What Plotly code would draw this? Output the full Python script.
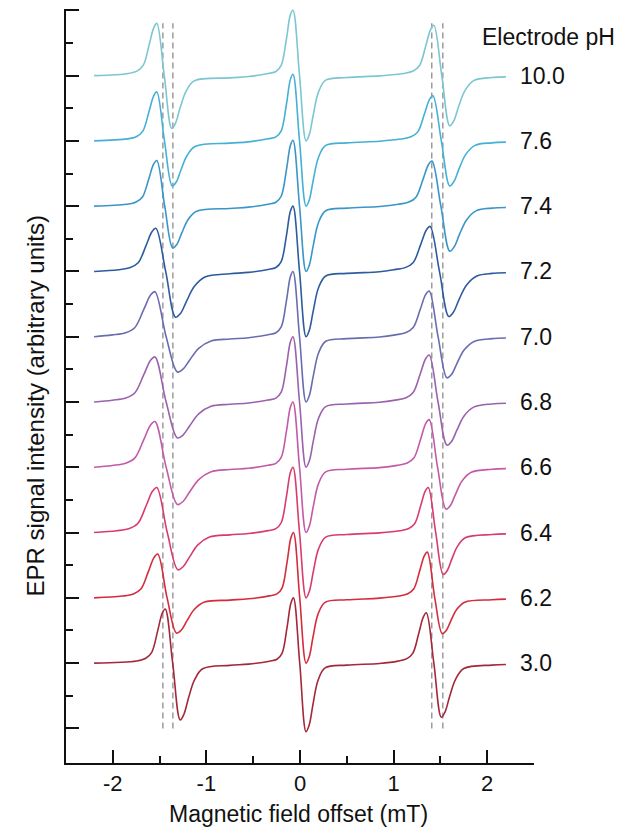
import plotly.graph_objects as go

ph_labels = ["3.0", "6.2", "6.4", "6.6", "6.8", "7.0", "7.2", "7.4", "7.6", "10.0"]
colors = ["#a3283a", "#d42c3c", "#d83c6c", "#c25aa8", "#9a62ac", "#6a6cb0",
          "#2d5c9e", "#3a95c8", "#45b0d6", "#7cc6d2"]

# Baseline points shared by all spectra (field offset, signal)
base_x = [-2.2, -0.75, -0.55, 0.5, 0.85, 2.05, 2.2]
base_y = [0.0, -0.035, -0.015, -0.03, -0.005, -0.03, -0.02]

# ---- pH 10.0 ----
x_100 = [-1.834, -1.738, -1.674, -1.61, -1.562, -1.53, -1.45, -1.37, -1.33, -1.282, -1.218, -1.13,
         -0.341, -0.257, -0.201, -0.145, -0.103, -0.075, -0.005, 0.065, 0.1, 0.142, 0.198, 0.275,
         1.107, 1.209, 1.277, 1.345, 1.396, 1.43, 1.515, 1.60, 1.643, 1.694, 1.762, 1.855]
y_100 = [0.032, 0.072, 0.16, 0.48, 0.736, 0.80, 0, -0.81, -0.729, -0.502, -0.243, -0.081,
         0.031, 0.062, 0.155, 0.56, 0.93, 1.0, 0, -1.0, -0.9, -0.6, -0.25, -0.07,
         0.031, 0.069, 0.154, 0.462, 0.708, 0.77, 0, -0.77, -0.693, -0.477, -0.231, -0.077]

# ---- pH 7.6 ----
x_76 = [-1.844, -1.745, -1.679, -1.613, -1.563, -1.53, -1.448, -1.365, -1.324, -1.274, -1.208, -1.117,
        -0.341, -0.257, -0.201, -0.145, -0.103, -0.075, -0.005, 0.065, 0.1, 0.142, 0.198, 0.275,
        1.078, 1.186, 1.258, 1.33, 1.384, 1.42, 1.51, 1.60, 1.645, 1.699, 1.771, 1.87]
y_76 = [0.03, 0.068, 0.15, 0.45, 0.69, 0.75, 0, -0.69, -0.635, -0.455, -0.228, -0.083,
        0.031, 0.061, 0.153, 0.561, 0.938, 1.02, 0, -1.0, -0.9, -0.6, -0.25, -0.07,
        0.028, 0.062, 0.138, 0.414, 0.635, 0.69, 0, -0.69, -0.621, -0.428, -0.207, -0.069]

# ---- pH 7.4 ----
x_74 = [-1.853, -1.751, -1.683, -1.615, -1.564, -1.53, -1.445, -1.36, -1.317, -1.266, -1.198, -1.105,
        -0.341, -0.257, -0.201, -0.145, -0.103, -0.075, -0.005, 0.065, 0.1, 0.142, 0.198, 0.275,
        1.049, 1.163, 1.239, 1.315, 1.372, 1.41, 1.505, 1.60, 1.648, 1.705, 1.781, 1.885]
y_74 = [0.028, 0.063, 0.14, 0.42, 0.644, 0.70, 0, -0.64, -0.589, -0.422, -0.211, -0.077,
        0.03, 0.06, 0.152, 0.556, 0.929, 1.01, 0, -1.0, -0.9, -0.6, -0.25, -0.07,
        0.028, 0.062, 0.138, 0.414, 0.635, 0.69, 0, -0.69, -0.621, -0.428, -0.207, -0.069]

# ---- pH 7.2 ----
x_72 = [-1.939, -1.813, -1.729, -1.645, -1.582, -1.54, -1.435, -1.33, -1.277, -1.214, -1.13, -1.015,
        -0.341, -0.257, -0.201, -0.145, -0.103, -0.075, -0.005, 0.065, 0.1, 0.142, 0.198, 0.275,
        1.01, 1.13, 1.21, 1.29, 1.35, 1.39, 1.49, 1.59, 1.64, 1.70, 1.78, 1.89]
y_72 = [0.026, 0.059, 0.132, 0.396, 0.607, 0.66, 0, -0.70, -0.644, -0.462, -0.231, -0.084,
        0.03, 0.06, 0.15, 0.55, 0.92, 1.0, 0, -1.0, -0.9, -0.6, -0.25, -0.07,
        0.028, 0.062, 0.138, 0.414, 0.635, 0.69, 0, -0.69, -0.621, -0.428, -0.207, -0.069]

# ---- pH 7.0 ----
x_70 = [-2.006, -1.862, -1.766, -1.67, -1.598, -1.55, -1.43, -1.31, -1.25, -1.178, -1.082, -0.95,
        -0.341, -0.257, -0.201, -0.145, -0.103, -0.075, -0.005, 0.065, 0.1, 0.142, 0.198, 0.275,
        1.019, 1.133, 1.209, 1.285, 1.342, 1.38, 1.475, 1.57, 1.618, 1.675, 1.751, 1.855]
y_70 = [0.028, 0.062, 0.138, 0.414, 0.635, 0.69, 0, -0.54, -0.497, -0.356, -0.178, -0.065,
        0.03, 0.06, 0.15, 0.55, 0.92, 1.0, 0, -1.0, -0.9, -0.6, -0.25, -0.07,
        0.028, 0.063, 0.14, 0.42, 0.644, 0.70, 0, -0.63, -0.58, -0.416, -0.208, -0.076]

# ---- pH 6.8 ----
x_68 = [-2.006, -1.862, -1.766, -1.67, -1.598, -1.55, -1.43, -1.31, -1.25, -1.178, -1.082, -0.95,
        -0.341, -0.257, -0.201, -0.145, -0.103, -0.075, -0.005, 0.065, 0.1, 0.142, 0.198, 0.275,
        1.019, 1.133, 1.209, 1.285, 1.342, 1.38, 1.475, 1.57, 1.618, 1.675, 1.751, 1.855]
y_68 = [0.028, 0.062, 0.138, 0.414, 0.635, 0.69, 0, -0.55, -0.506, -0.363, -0.182, -0.066,
        0.03, 0.06, 0.15, 0.55, 0.92, 1.0, 0, -1.0, -0.9, -0.6, -0.25, -0.07,
        0.029, 0.065, 0.144, 0.432, 0.662, 0.72, 0, -0.66, -0.607, -0.436, -0.218, -0.079]

# ---- pH 6.6 ----
x_66 = [-2.006, -1.862, -1.766, -1.67, -1.598, -1.55, -1.43, -1.31, -1.25, -1.178, -1.082, -0.95,
        -0.341, -0.257, -0.201, -0.145, -0.103, -0.075, -0.005, 0.065, 0.1, 0.142, 0.198, 0.275,
        1.038, 1.146, 1.218, 1.29, 1.344, 1.38, 1.47, 1.56, 1.605, 1.659, 1.731, 1.83]
y_66 = [0.028, 0.063, 0.14, 0.42, 0.644, 0.70, 0, -0.57, -0.524, -0.376, -0.188, -0.068,
        0.03, 0.06, 0.15, 0.55, 0.92, 1.0, 0, -1.0, -0.9, -0.6, -0.25, -0.07,
        0.029, 0.066, 0.146, 0.438, 0.672, 0.73, 0, -0.64, -0.589, -0.422, -0.211, -0.077]

# ---- pH 6.4 ----
x_64 = [-1.958, -1.823, -1.733, -1.643, -1.575, -1.53, -1.418, -1.305, -1.249, -1.181, -1.091, -0.967,
        -0.341, -0.257, -0.201, -0.145, -0.103, -0.075, -0.005, 0.065, 0.1, 0.142, 0.198, 0.275,
        1.066, 1.162, 1.226, 1.29, 1.338, 1.37, 1.45, 1.53, 1.57, 1.618, 1.682, 1.77]
y_64 = [0.028, 0.062, 0.138, 0.414, 0.635, 0.69, 0, -0.57, -0.524, -0.376, -0.188, -0.068,
        0.03, 0.06, 0.15, 0.55, 0.92, 1.0, 0, -1.0, -0.9, -0.6, -0.25, -0.07,
        0.028, 0.062, 0.138, 0.414, 0.635, 0.69, 0, -0.64, -0.589, -0.422, -0.211, -0.077]

# ---- pH 6.2 ----
x_62 = [-1.90, -1.78, -1.70, -1.62, -1.56, -1.52, -1.42, -1.32, -1.27, -1.21, -1.13, -1.02,
        -0.327, -0.246, -0.192, -0.138, -0.097, -0.07, -0.003, 0.065, 0.099, 0.139, 0.193, 0.268,
        1.056, 1.152, 1.216, 1.28, 1.328, 1.36, 1.44, 1.52, 1.56, 1.608, 1.672, 1.76]
y_62 = [0.027, 0.06, 0.134, 0.402, 0.616, 0.67, 0, -0.54, -0.497, -0.356, -0.178, -0.065,
        0.03, 0.06, 0.15, 0.55, 0.92, 1.0, 0, -1.0, -0.9, -0.6, -0.25, -0.07,
        0.028, 0.063, 0.14, 0.42, 0.644, 0.70, 0, -0.55, -0.506, -0.363, -0.182, -0.066]

# ---- pH 3.0 ----
x_30 = [-1.744, -1.648, -1.584, -1.52, -1.472, -1.44, -1.36, -1.28, -1.24, -1.192, -1.128, -1.04,
        -0.327, -0.246, -0.192, -0.138, -0.097, -0.07, -0.003, 0.065, 0.099, 0.139, 0.193, 0.268,
        1.046, 1.142, 1.206, 1.27, 1.318, 1.35, 1.43, 1.51, 1.55, 1.598, 1.662, 1.75]
y_30 = [0.033, 0.075, 0.166, 0.498, 0.764, 0.83, 0, -0.87, -0.783, -0.539, -0.261, -0.087,
        0.03, 0.06, 0.15, 0.55, 0.92, 1.0, 0, -1.05, -0.945, -0.63, -0.263, -0.074,
        0.031, 0.069, 0.154, 0.462, 0.708, 0.77, 0, -0.83, -0.747, -0.515, -0.249, -0.083]

xs = [x_30, x_62, x_64, x_66, x_68, x_70, x_72, x_74, x_76, x_100]
ys = [y_30, y_62, y_64, y_66, y_68, y_70, y_72, y_74, y_76, y_100]

# dashed reference positions (mT)
dash_positions = [-1.465, -1.358, 1.408, 1.526]

x_tick_vals = [-2, -1, 0, 1, 2]
x_tick_text = ["-2", "-1", "0", "1", "2"]

FONT = "Liberation Sans, Arial, sans-serif"
INK = "#111111"

fig = go.Figure()

for xp in dash_positions:
    fig.add_shape(type="line", x0=xp, x1=xp, y0=0.0, y1=10.8,
                  line=dict(color="#8c8c8c", width=1.3, dash="6px,4px"),
                  layer="below")

for k, (xv, yv, c) in enumerate(zip(xs, ys, colors)):
    offset = k + 1
    pts = sorted(list(zip(base_x, base_y)) + list(zip(xv, yv)))
    fig.add_trace(go.Scatter(
        x=[p[0] for p in pts], y=[p[1] + offset for p in pts], mode="lines",
        line=dict(color=c, width=1.6, shape="spline", smoothing=1.0),
        showlegend=False, hoverinfo="skip"))
    fig.add_annotation(x=0.966, xref="paper", y=offset, yref="y",
                       text=ph_labels[k], showarrow=False, xanchor="left",
                       yanchor="middle", font=dict(family=FONT, size=23, color=INK))

fig.add_annotation(x=0.885, xref="paper", y=0.963, yref="paper",
                   text="Electrode pH", showarrow=False, xanchor="left",
                   yanchor="middle", font=dict(family=FONT, size=23, color=INK))

fig.add_annotation(x=-0.066, xref="paper", y=0.473, yref="paper",
                   text="EPR signal intensity (arbitrary units)", textangle=-90,
                   showarrow=False, xanchor="center", yanchor="middle",
                   font=dict(family=FONT, size=24, color=INK))
fig.add_annotation(x=0.496, xref="paper", y=-0.068, yref="paper",
                   text="Magnetic field offset (mT)", showarrow=False,
                   xanchor="center", yanchor="middle",
                   font=dict(family=FONT, size=23, color=INK))

fig.update_layout(
    width=621, height=827,
    margin=dict(l=66, r=87, t=9, b=64),
    paper_bgcolor="white", plot_bgcolor="white",
    font=dict(family=FONT, size=22, color=INK),
    xaxis=dict(range=[-2.5, 2.5], showgrid=False, zeroline=False,
               showline=True, linecolor=INK, linewidth=2,
               ticks="inside", ticklen=13, tickwidth=2, tickcolor=INK,
               tickvals=x_tick_vals, ticktext=x_tick_text,
               tickfont=dict(family=FONT, size=22, color=INK),
               minor=dict(ticks="inside", ticklen=7, tickwidth=2, tickcolor=INK,
                          tickvals=[-1.5, -0.5, 0.5, 1.5, 2.5])),
    yaxis=dict(range=[-0.53, 11.02], showgrid=False, zeroline=False,
               showline=True, linecolor=INK, linewidth=2,
               ticks="inside", ticklen=13, tickwidth=2, tickcolor=INK,
               tickvals=list(range(0, 12)), showticklabels=False,
               minor=dict(ticks="inside", ticklen=7, tickwidth=2, tickcolor=INK,
                          tickvals=[i + 0.5 for i in range(0, 11)])),
)

fig.write_html("out.html",
               config={"displayModeBar": False, "staticPlot": True},
               post_script="document.body.style.margin='0';document.body.style.padding='0';"
                           "document.documentElement.style.overflow='hidden';")
